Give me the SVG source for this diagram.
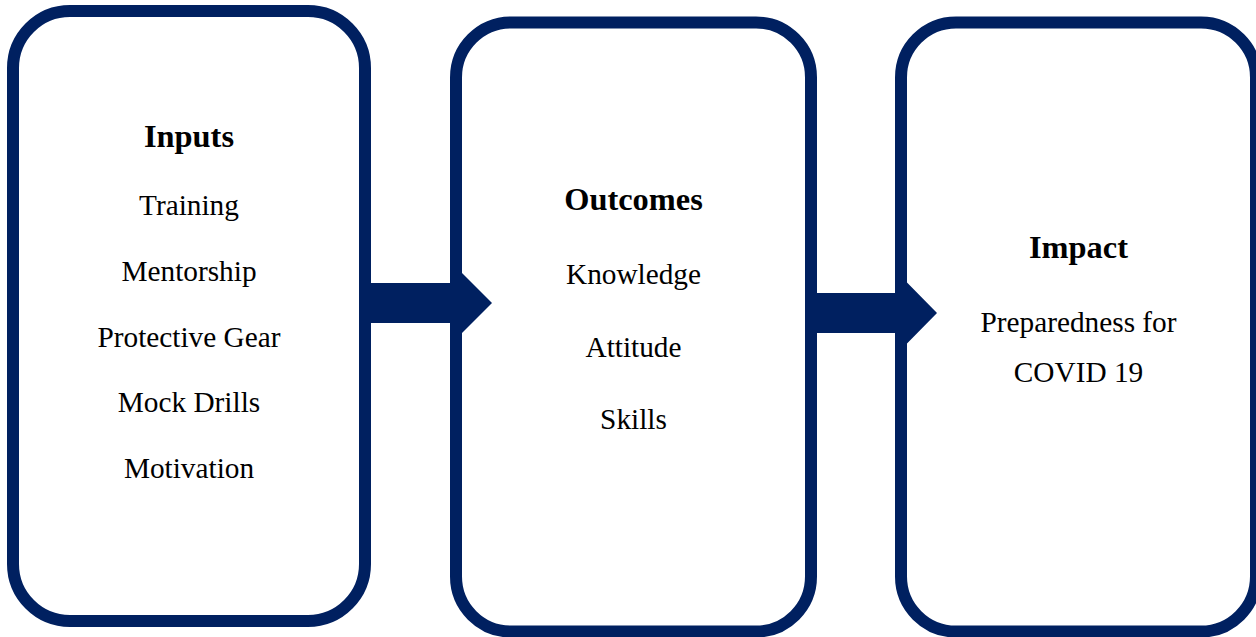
<svg xmlns="http://www.w3.org/2000/svg" width="1256" height="637" viewBox="0 0 1256 637">
<style>
.box{fill:#fff;stroke:#002060;stroke-width:12}
.arr{fill:#002060}
text{font-family:"Liberation Serif","Times New Roman",serif;fill:#000;text-anchor:middle}
.h{font-weight:bold;font-size:32.4px}
.t{font-size:29.3px}
</style>
<rect width="1256" height="637" fill="#fff"/>
<g id="inputs">
<rect class="box" x="13" y="11" width="352" height="610" rx="57" ry="57"/>
<text class="h" x="189" y="147">Inputs</text>
<text class="t" x="189" y="215">Training</text>
<text class="t" x="189" y="281">Mentorship</text>
<text class="t" x="189" y="347">Protective Gear</text>
<text class="t" x="189" y="412">Mock Drills</text>
<text class="t" x="189" y="478">Motivation</text>
</g>
<g id="outcomes">
<rect class="box" x="456" y="22.5" width="355" height="609" rx="55" ry="55"/>
<text class="h" x="633.5" y="210">Outcomes</text>
<text class="t" x="633.5" y="284">Knowledge</text>
<text class="t" x="633.5" y="357">Attitude</text>
<text class="t" x="633.5" y="429">Skills</text>
</g>
<g id="impact">
<rect class="box" x="901" y="22.5" width="355" height="609" rx="55" ry="55"/>
<text class="h" x="1078.5" y="258">Impact</text>
<text class="t" x="1078.5" y="332">Preparedness for</text>
<text class="t" x="1078.5" y="382">COVID 19</text>
</g>
<g id="connectors">
<polygon class="arr" points="365,283 462,283 462,273 492,303 462,333 462,323 365,323"/>
<polygon class="arr" points="811,293 907,293 907,282.5 937,313 907,343.5 907,333 811,333"/>
</g>
</svg>
